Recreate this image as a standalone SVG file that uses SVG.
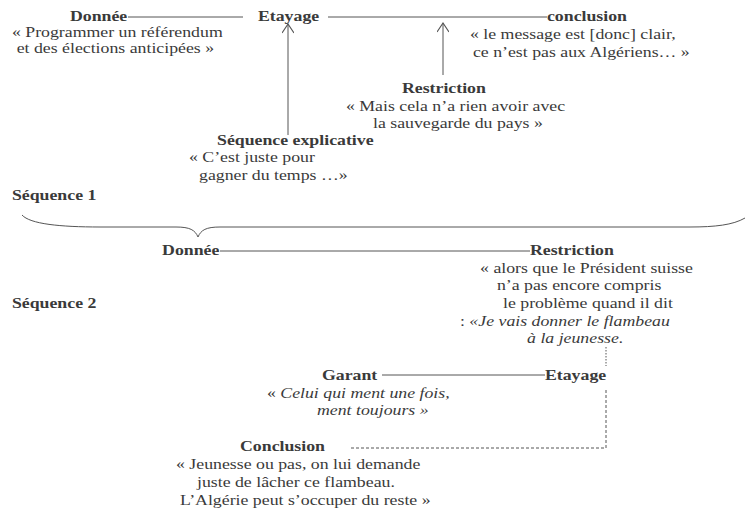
<svg xmlns="http://www.w3.org/2000/svg" width="745" height="509" viewBox="0 0 745 509" font-family="'Liberation Serif', 'DejaVu Serif', serif">
<style>
text{font-family:'Liberation Serif','DejaVu Serif',serif;font-size:14px;fill:#3a3a3a}
.b{font-weight:bold}
.i{font-style:italic}
.ln{stroke:#555;stroke-width:1;fill:none}
.dash{stroke:#555;stroke-width:1;fill:none;stroke-dasharray:3 2}
.dot{stroke:#555;stroke-width:1;fill:none;stroke-dasharray:1.5 1.5}
</style>
<defs>
<marker id="arr" markerWidth="12" markerHeight="12" refX="10" refY="6" orient="auto" markerUnits="userSpaceOnUse" viewBox="0 0 12 12">
<polyline points="1,0 10,6 1,12" fill="none" stroke="#555" stroke-width="1.2"/>
</marker>
</defs>
<rect width="745" height="509" fill="#fff"/>
<g id="connectors">
<line class="ln" x1="128" y1="17" x2="243" y2="17"/>
<line class="ln" x1="328" y1="17" x2="547" y2="17"/>
<line class="ln" x1="288" y1="135" x2="288" y2="24" marker-end="url(#arr)"/>
<line class="ln" x1="443" y1="75" x2="443" y2="23" marker-end="url(#arr)"/>
<path class="ln" stroke-width="1.6" d="M22,215 C30,224 60,227 100,227 L176,227 C190,227 195,230 198,237 C201,230 206,227 220,227 L690,227 C715,227 733,225 745,218"/>
<line class="ln" x1="220" y1="251" x2="530" y2="251"/>
<line class="dot" x1="606" y1="347" x2="606" y2="366"/>
<line class="ln" x1="382" y1="375" x2="545" y2="375"/>
<polyline class="dash" points="606,390 606,448 350,448"/>
</g>
<g id="seq1-donnee" transform="scale(1.27 1)">
<text class="b" x="55.1" y="21">Donnée</text>
<text x="9.4" y="37">« Programmer un référendum</text>
<text x="13.1" y="53">et des élections anticipées »</text>
</g>
<g id="seq1-etayage" transform="scale(1.27 1)">
<text class="b" x="203.1" y="21">Etayage</text>
</g>
<g id="seq1-conclusion" transform="scale(1.27 1)">
<text class="b" x="430.7" y="21">conclusion</text>
<text x="370.1" y="39">« le message est [donc] clair,</text>
<text x="372.4" y="57">ce n’est pas aux Algériens… »</text>
</g>
<g id="seq1-restriction" transform="scale(1.27 1)">
<text class="b" x="316.5" y="93">Restriction</text>
<text x="272.4" y="111">« Mais cela n’a rien avoir avec</text>
<text x="293.7" y="128">la sauvegarde du pays »</text>
</g>
<g id="seq1-explicative" transform="scale(1.27 1)">
<text class="b" x="170.9" y="145">Séquence explicative</text>
<text x="148.8" y="162">« C’est juste pour</text>
<text x="156.7" y="180">gagner du temps …»</text>
</g>
<g id="label-seq1" transform="scale(1.27 1)">
<text class="b" x="9.4" y="200">Séquence 1</text>
</g>
<g id="label-seq2" transform="scale(1.27 1)">
<text class="b" x="9.4" y="308">Séquence 2</text>
</g>
<g id="seq2-donnee" transform="scale(1.27 1)">
<text class="b" x="127.6" y="255">Donnée</text>
</g>
<g id="seq2-restriction" transform="scale(1.27 1)">
<text class="b" x="417.3" y="255">Restriction</text>
<text x="378" y="273">« alors que le Président suisse</text>
<text x="391.3" y="290">n’a pas encore compris</text>
<text x="396.1" y="308">le problème quand il dit</text>
<text x="362.2" y="326">: <tspan class="i">«Je vais donner le flambeau</tspan></text>
<text class="i" x="415" y="343">à la jeunesse.</text>
</g>
<g id="seq2-garant" transform="scale(1.27 1)">
<text class="b" x="253.5" y="380">Garant</text>
<text x="210.2" y="398">« <tspan class="i"> Celui qui ment une fois,</tspan></text>
<text class="i" x="249.6" y="415">ment toujours »</text>
</g>
<g id="seq2-etayage" transform="scale(1.27 1)">
<text class="b" x="429.1" y="380">Etayage</text>
</g>
<g id="seq2-conclusion" transform="scale(1.27 1)">
<text class="b" x="189" y="451">Conclusion</text>
<text x="138.6" y="469">« Jeunesse ou pas, on lui demande</text>
<text x="155.1" y="487">juste de lâcher ce flambeau.</text>
<text x="141.7" y="505">L’Algérie peut s’occuper du reste »</text>
</g>
</svg>
